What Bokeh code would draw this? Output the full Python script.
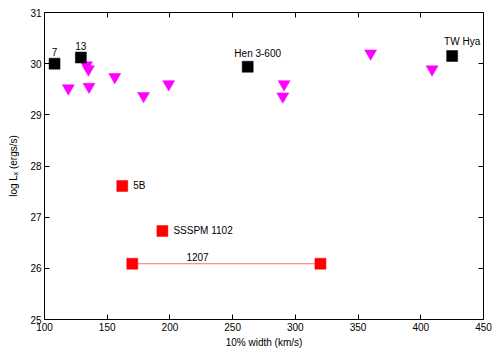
from bokeh.plotting import figure
from bokeh.models import Range1d, LinearAxis, SingleIntervalTicker, ColumnDataSource
from bokeh.core.properties import value
from bokeh.embed import file_html
from bokeh.resources import INLINE

# ---- data ----
black_x = [108, 129, 262, 425]
black_y = [30.00, 30.12, 29.94, 30.15]
black_lbl = ["7", "13", "Hen 3-600", "TW Hya"]

tri_x = [119, 133.5, 135, 135.5, 156, 179, 199, 291, 290, 360, 409]
tri_y = [29.52, 29.97, 29.89, 29.55, 29.74, 29.37, 29.60, 29.60, 29.36, 30.20, 29.89]

red_x = [162, 194, 170, 320]
red_y = [27.61, 26.73, 26.09, 26.09]
red_lbl = ["5B", "SSSPM 1102"]

seg_x = [170, 320]
seg_y = [26.09, 26.09]
seg_lbl_x = [222]
seg_lbl_y = [26.09]
seg_lbl = ["1207"]

x_ticks_interval = 50
y_ticks_interval = 1

FONT = "Liberation Sans"
FS = "10px"

p = figure(width=500, height=350, output_backend="svg", toolbar_location=None,
           x_range=Range1d(100, 450), y_range=Range1d(25, 31),
           min_border_left=44, min_border_right=17, min_border_top=12, min_border_bottom=29)
p.grid.visible = False
p.outline_line_color = "black"
p.outline_line_width = 1
p.background_fill_color = "white"
p.border_fill_color = "white"

for ax in (p.xaxis[0], p.yaxis[0]):
    ax.major_tick_in = 5
    ax.major_tick_out = 0
    ax.minor_tick_in = 0
    ax.minor_tick_out = 0
    ax.major_label_text_font = FONT
    ax.major_label_text_font_size = FS
    ax.major_label_text_color = "black"
    ax.axis_label_text_font = FONT
    ax.axis_label_text_font_size = FS
    ax.axis_label_text_font_style = "normal"
    ax.axis_label_text_color = "black"
    ax.axis_line_color = "black"
    ax.major_tick_line_color = "black"

p.xaxis[0].ticker = SingleIntervalTicker(interval=x_ticks_interval)
p.yaxis[0].ticker = SingleIntervalTicker(interval=y_ticks_interval)
p.xaxis[0].axis_label = "10% width (km/s)"
p.yaxis[0].axis_label = "log L\u2093 (ergs/s)"
p.xaxis[0].major_label_standoff = 3
p.yaxis[0].major_label_standoff = 3
p.xaxis[0].axis_label_standoff = 3
p.yaxis[0].axis_label_standoff = 8

top = LinearAxis(ticker=SingleIntervalTicker(interval=x_ticks_interval),
                 major_tick_in=5, major_tick_out=0, minor_tick_in=0, minor_tick_out=0,
                 major_label_text_font_size="1px", major_label_text_color=None,
                 major_label_standoff=0, axis_line_color=None)
right = LinearAxis(ticker=SingleIntervalTicker(interval=y_ticks_interval),
                   major_tick_in=5, major_tick_out=0, minor_tick_in=0, minor_tick_out=0,
                   major_label_text_font_size="1px", major_label_text_color=None,
                   major_label_standoff=0, axis_line_color=None)
p.add_layout(top, "above")
p.add_layout(right, "right")

# 1207 segment
p.line(seg_x, seg_y, line_color="#ff7070", line_width=1)
p.text(seg_lbl_x, seg_lbl_y, text=seg_lbl, text_font=value(FONT), text_font_size=FS,
       text_align="center", text_baseline="bottom", y_offset=-3, text_color="black")

# magenta inverted triangles
p.scatter(tri_x, tri_y, marker="inverted_triangle", size=12, fill_color="#ff00ff",
          line_color="#ff00ff", line_width=0.5)

# red squares
p.scatter(red_x, red_y, marker="square", size=11, fill_color="#ff0000", line_color="#ff0000",
          line_width=0.5)
p.text(red_x[:2], red_y[:2], text=red_lbl, text_font=value(FONT), text_font_size=FS,
       text_align="left", text_baseline="middle", x_offset=11, text_color="black")

# black squares
p.scatter(black_x, black_y, marker="square", size=11, fill_color="black", line_color="black",
          line_width=0.5)
src = ColumnDataSource(dict(x=black_x, y=black_y, t=black_lbl,
                            xo=[0, 0, 10, 10], yo=[-8, -8, -8, -9]))
p.text("x", "y", text="t", source=src, x_offset="xo", y_offset="yo", text_font=value(FONT),
       text_font_size=FS, text_align="center", text_baseline="bottom", text_color="black")

open("out.html", "w").write(file_html(p, INLINE))
